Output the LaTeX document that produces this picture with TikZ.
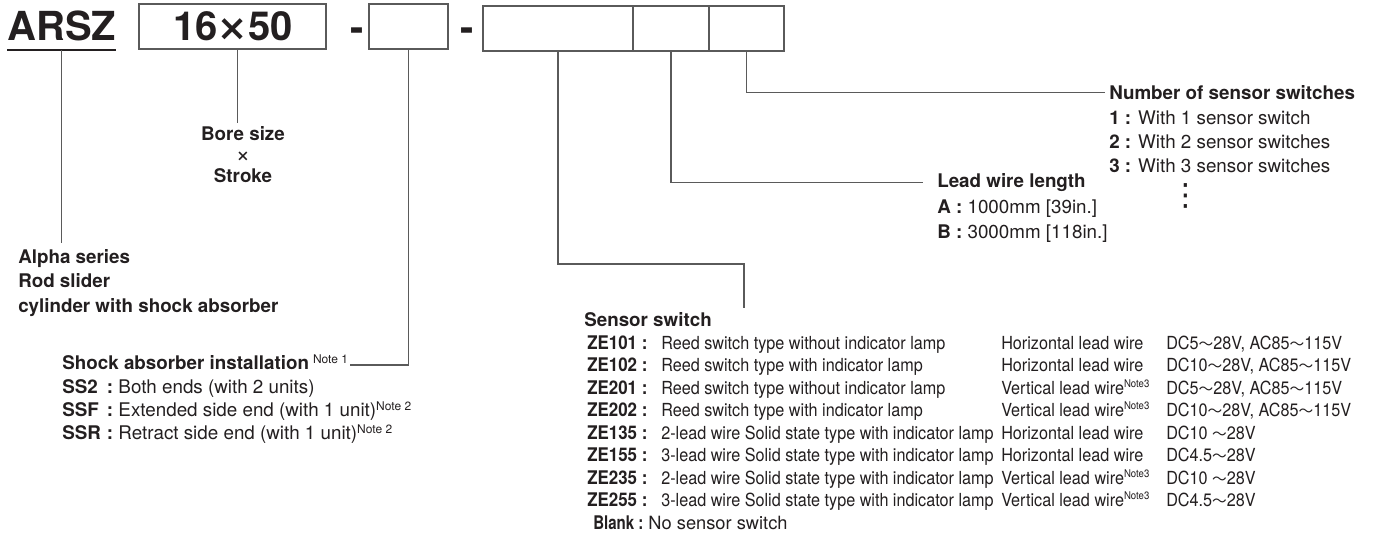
\documentclass[tikz,border=0pt]{standalone}
\usepackage{fontspec}
\setmainfont{TeX Gyre Heros}
\newfontfamily\condfont{TeX Gyre Heros}[FakeStretch=0.9]
\newfontfamily\cjkfont{Noto Sans CJK JP}
\newfontfamily\symfont{DejaVu Sans}
\usetikzlibrary{positioning}

\definecolor{inkblack}{HTML}{231F20}
\definecolor{leadgray}{HTML}{5A5A5A}

\newcommand{\bigfont}{\bfseries\fontsize{30}{36}\selectfont}
\newcommand{\hdfont}{\bfseries\fontsize{14.1}{17}\selectfont}
\newcommand{\rgfont}{\fontsize{14.1}{17}\selectfont}
\newcommand{\swfont}{\condfont\fontsize{13.5}{16}\selectfont}
\newcommand{\wave}{{\cjkfont\fontsize{11}{11}\selectfont ～}}
\newcommand{\notemark}[1]{\raisebox{4.3pt}{\fontsize{9}{9}\selectfont #1}}
\newcommand{\wirenote}{\raisebox{5pt}{\condfont\fontsize{8}{8}\selectfont Note3}}
\newcommand{\bigtimes}{{\symfont\fontsize{27}{27}\selectfont ×}}

\tikzset{
  leader/.style={draw=leadgray, line width=0.8pt},
  codebox/.style={draw=leadgray, line width=0.8pt, inner sep=0pt, outer sep=0pt,
                  minimum height=33.75pt, text=inkblack},
  txtbase/.style={inner sep=0pt, anchor=base west, text=inkblack},
  headtxt/.style={txtbase, font=\hdfont},
  itemtxt/.style={txtbase, font=\rgfont},
}

\begin{document}
\begin{tikzpicture}[x=0.75pt, y=-0.75pt]
\useasboundingbox (0,0) rectangle (1374,535);

% order code
\node[txtbase, font=\bigfont] (arsz) at (7,41) {ARSZ};
\draw[line width=1pt, inkblack] (arsz.base west |- 0,50) -- (arsz.base east |- 0,50);
\node[codebox, minimum width=140.25pt, font=\bigfont] (bsz) at (232.5,26.5) {};
\node[txtbase, font=\bigfont, anchor=base] (bszval) at (233,40.5) {16\bigtimes50};
\node[txtbase, font=\bigfont] (dasha) at (350,42) {-};
\node[codebox, minimum width=59.25pt] (sab) at (408.5,26.5) {};
\node[txtbase, font=\bigfont] (dashb) at (460,42) {-};
\node[codebox, minimum width=112.5pt] (sw) at (558,28.5) {};
\node[codebox, minimum width=57pt, right=0pt of sw] (lw) {};
\node[codebox, minimum width=56.25pt, right=0pt of lw] (nss) {};

% series
\node[headtxt] (alpha) at (18,263) {Alpha series};
\node[headtxt] (rodsl) at (18,287) {Rod slider};
\node[headtxt] (cylsa) at (18,312) {cylinder with shock absorber};
\draw[leader] (arsz.base |- 0,50) -- (arsz.base |- 0,243);

% bore size x stroke
\node[headtxt, anchor=base] (bore) at (243,140) {Bore size};
\node[inner sep=0pt, text=inkblack, font=\rgfont] (times) at (243,157) {\scalebox{1.3}{×}};
\node[headtxt, anchor=base] (strk) at (243,182) {Stroke};
\draw[leader] ([xshift=3.4pt]bsz.south) -- ([xshift=3.4pt]bsz.south |- 0,123);

% shock absorber
\node[headtxt] (shock) at (62,369) {Shock absorber installation\hspace{3pt}{\mdseries\notemark{Note 1}}};
\node[itemtxt] (ss2) at (62,393) {\makebox[38.25pt][l]{\textbf{SS2}\hfill\textbf{:}} Both ends (with 2 units)};
\node[itemtxt] (ssf) at (62,416) {\makebox[38.25pt][l]{\textbf{SSF}\hfill\textbf{:}} Extended side end (with 1 unit)\notemark{Note 2}};
\node[itemtxt] (ssr) at (62,439) {\makebox[38.25pt][l]{\textbf{SSR}\hfill\textbf{:}} Retract side end (with 1 unit)\notemark{Note 2}};
\coordinate (sabend) at (350,365);
\draw[leader] (sab.south) |- (sabend);

% sensor switch
\node[headtxt] (swhd) at (584,326) {Sensor switch};
\coordinate (swend) at (744,308);
\draw[leader] (sw.south) |- (swend |- 0,264) -- (swend);
\foreach \code/\desc/\wire/\volt [count=\i from 0] in {
  ZE101/Reed switch type without indicator lamp/Horizontal lead wire/{DC5\wave28V, AC85\wave115V},
  ZE102/Reed switch type with indicator lamp/Horizontal lead wire/{DC10\wave28V, AC85\wave115V},
  ZE201/Reed switch type without indicator lamp/Vertical lead wire\wirenote/{DC5\wave28V, AC85\wave115V},
  ZE202/Reed switch type with indicator lamp/Vertical lead wire\wirenote/{DC10\wave28V, AC85\wave115V},
  ZE135/2-lead wire Solid state type with indicator lamp/Horizontal lead wire/DC10 \wave28V,
  ZE155/3-lead wire Solid state type with indicator lamp/Horizontal lead wire/DC4.5\wave28V,
  ZE235/2-lead wire Solid state type with indicator lamp/Vertical lead wire\wirenote/DC10 \wave28V,
  ZE255/3-lead wire Solid state type with indicator lamp/Vertical lead wire\wirenote/DC4.5\wave28V}{
  \node[txtbase, font=\swfont] (ze\i) at (587,{349+22.5*\i})
    {\makebox[51pt][l]{\bfseries\fontsize{14.1}{16}\selectfont\code\ :}\hspace{4.5pt}\desc};
  \node[txtbase, font=\swfont] (wire\i) at (1001,{349+22.5*\i}) {\wire};
  \node[txtbase, font=\swfont] (volt\i) at (1166,{349+22.5*\i}) {\volt};
}
\node[txtbase, font=\fontsize{13.7}{16}\selectfont] (blank) at (593,529)
  {\scalebox{0.8}[1]{\fontsize{14.1}{16}\selectfont\textbf{Blank :}} No sensor switch};

% lead wire length
\node[headtxt] (leadhd) at (937,187) {Lead wire length};
\node[itemtxt] (leada) at (937,213) {\textbf{A :} 1000mm [39in.]};
\node[itemtxt] (leadb) at (937,238) {\textbf{B :} 3000mm [118in.]};
\draw[leader] (lw.south) |- ([xshift=-10.5pt]leadhd.west);

% number of sensor switches
\node[headtxt] (numhd) at (1109,99) {Number of sensor switches};
\node[itemtxt] (num1) at (1109,124) {\textbf{1 :} With 1 sensor switch};
\node[itemtxt] (num2) at (1109,148) {\textbf{2 :} With 2 sensor switches};
\node[itemtxt] (num3) at (1109,172) {\textbf{3 :} With 3 sensor switches};
\node[inner sep=0pt, text=inkblack, font=\symfont\fontsize{23}{23}\selectfont] (numdots) at (1186,196) {⋮};
\draw[leader] (nss.south) |- ([xshift=-3pt]numhd.west);
\end{tikzpicture}
\end{document}
